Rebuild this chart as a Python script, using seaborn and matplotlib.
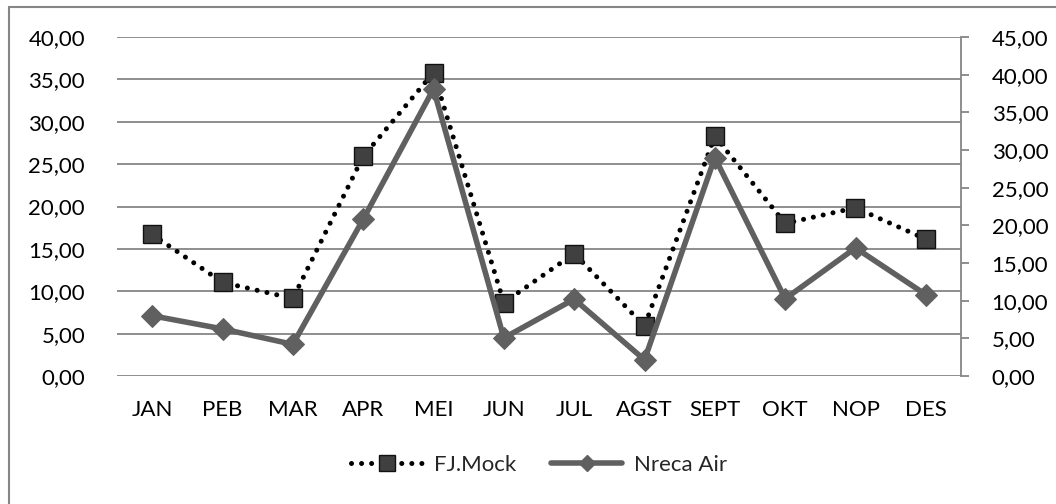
import matplotlib
matplotlib.use("Agg")
import matplotlib.pyplot as plt
from matplotlib.lines import Line2D
from matplotlib.ticker import FuncFormatter, MultipleLocator
import seaborn as sns
import pandas as pd

months = ["JAN", "PEB", "MAR", "APR", "MEI", "JUN", "JUL", "AGST", "SEPT", "OKT", "NOP", "DES"]
fj_mock = [16.7, 11.05, 9.15, 25.9, 35.8, 8.65, 14.45, 5.9, 28.3, 18.0, 19.85, 16.15]
nreca_air = [8.0, 6.25, 4.2, 20.8, 38.1, 5.05, 10.2, 2.15, 29.0, 10.25, 17.0, 10.8]

sns.set_style("white")
plt.rcParams["font.family"] = ["Lato", "DejaVu Sans"]

df = pd.DataFrame({"month": months, "FJ.Mock": fj_mock, "Nreca Air": nreca_air})
df["x"] = range(len(months))

fig = plt.figure(figsize=(10.56, 5.04), dpi=100)
ax = fig.add_axes([117 / 1056, 1 - 376 / 504, (961 - 117) / 1056, (376 - 37) / 504])
ax2 = ax.twinx()

grid_c = "#868686"
fs = 16

sns.lineplot(data=df, x="x", y="FJ.Mock", ax=ax, color="black", linewidth=3.6,
             linestyle=(0, (0.01, 2.0)),
             marker="s", markersize=13.5, markerfacecolor="#404040",
             markeredgecolor="#111111", markeredgewidth=1.0, zorder=3, legend=False)
ax.lines[-1].set_dash_capstyle("round")
sns.lineplot(data=df, x="x", y="Nreca Air", ax=ax2, color="#606060", linewidth=4,
             marker="D", markersize=11.5, markerfacecolor="#606060",
             markeredgecolor="#606060", zorder=4, legend=False)

ax.set_xlim(-0.5, len(months) - 0.5)
ax.set_ylim(0, 40)
ax2.set_ylim(0, 45)
ax.yaxis.set_major_locator(MultipleLocator(5))
ax2.yaxis.set_major_locator(MultipleLocator(5))
fmt = FuncFormatter(lambda v, p: f"{v:.2f}".replace(".", ","))
ax.yaxis.set_major_formatter(fmt)
ax2.yaxis.set_major_formatter(fmt)
ax.set_xticks(range(len(months)))
ax.set_xticklabels(months)
ax.set_xlabel("")
ax.set_ylabel("")
ax2.set_ylabel("")

ax.grid(axis="y", color=grid_c, linewidth=1.3)
ax.set_axisbelow(True)
for s in ["top", "left", "bottom", "right"]:
    ax.spines[s].set_visible(False)
    ax2.spines[s].set_visible(False)
ax2.spines["right"].set_visible(True)
ax2.spines["right"].set_color(grid_c)
ax2.spines["right"].set_linewidth(1.3)

ax.tick_params(axis="y", length=0, pad=23, labelsize=fs, labelcolor="black")
ax.tick_params(axis="x", length=0, pad=17, labelsize=fs, labelcolor="black")
ax2.tick_params(axis="y", which="major", direction="out", right=True, left=False,
                length=6, width=1.3, color=grid_c, pad=16, labelsize=fs, labelcolor="black")

handles = [
    Line2D([], [], color="black", linewidth=3.6, linestyle=(0, (0.01, 2.0)), dash_capstyle="round",
           marker="s", markersize=11, markerfacecolor="#404040", markeredgecolor="#111111"),
    Line2D([], [], color="#606060", linewidth=4, marker="D", markersize=8,
           markerfacecolor="#606060", markeredgecolor="#606060"),
]
fig.legend(handles, ["FJ.Mock", "Nreca Air"], loc="center", bbox_to_anchor=(539 / 1056, 1 - 465 / 504),
           ncol=2, frameon=False, fontsize=fs, handlelength=3.2, columnspacing=1.6, handletextpad=0.5)

# outer chart border (top and left visible)
fig.add_artist(Line2D([8.5 / 1056, 8.5 / 1056], [0, 1 - 7 / 504], transform=fig.transFigure,
                      color=grid_c, linewidth=1.5))
fig.add_artist(Line2D([8.5 / 1056, 1], [1 - 7 / 504, 1 - 7 / 504], transform=fig.transFigure,
                      color=grid_c, linewidth=1.5))

fig.savefig("out.png", dpi=100)
